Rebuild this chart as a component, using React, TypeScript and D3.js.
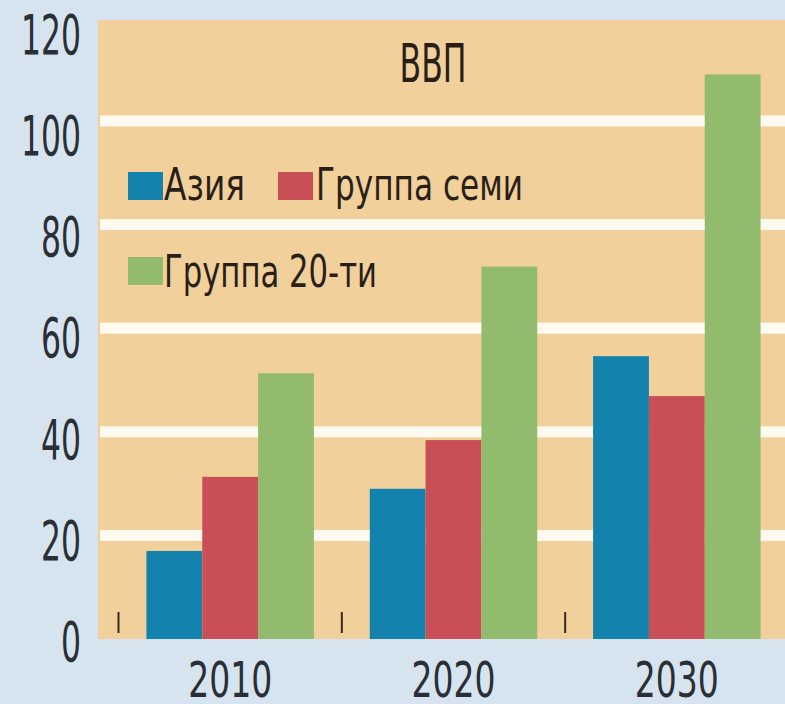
import React from "react";
import * as d3 from "d3";

const years = ["2010", "2020", "2030"];
const seriesNames = ["Азия", "Группа семи", "Группа 20-ти"];
const asia = [17, 29, 54.6];
const g7 = [31.3, 38.4, 46.9];
const g20 = [51.3, 71.9, 109];
const yTicks = [0, 20, 40, 60, 80, 100, 120];
const gridValues = [20, 40, 60, 80, 100];
const title = "ВВП";

const W = 785;
const H = 704;
const FONT = "'Liberation Sans Narrow', 'DejaVu Sans Condensed', 'Roboto', sans-serif";
const colors = ["#1383ad", "#c94f57", "#93bb6d"];

export default function App() {
  const plotLeft = 98;
  const plotTop = 20;
  const plotBottom = 639;

  const y = d3.scaleLinear().domain([0, 120]).range([plotBottom, 17.4]);
  const yLabel = d3.scaleLinear().domain([0, 120]).range([641, 33.5]);
  const x0 = d3.scaleBand<string>().domain(years).range([118.5, 788.5]).paddingInner(0.25).paddingOuter(0.125);
  const x1 = d3.scaleBand<string>().domain(seriesNames).range([0, x0.bandwidth()]).padding(0);
  const values = [asia, g7, g20];
  const step = x0.step();

  const legend = [
    { name: seriesNames[0], color: colors[0], x: 128, y: 172, tx: 164, base: 200, len: 81 },
    { name: seriesNames[1], color: colors[1], x: 278, y: 172, tx: 316, base: 200, len: 207 },
    { name: seriesNames[2], color: colors[2], x: 128, y: 257, tx: 164, base: 287, len: 213 },
  ];

  return (
    <svg width={W} height={H} style={{ position: "absolute", left: 0, top: 0 }} fontFamily={FONT}>
      <rect x={0} y={0} width={W} height={H} fill="#d6e4ef" />
      <rect x={plotLeft} y={plotTop} width={W - plotLeft} height={plotBottom - plotTop} fill="#f1d09b" />
      {gridValues.map((v) => (
        <rect key={v} x={plotLeft + 2} y={y(v) - 5.5} width={W - plotLeft} height={11} fill="#fffaf0" />
      ))}
      {years.map((yr, i) => (
        <g key={yr} transform={`translate(${x0(yr)},0)`}>
          {seriesNames.map((s, j) => (
            <rect
              key={s}
              x={x1(s)}
              y={y(values[j][i])}
              width={x1.bandwidth()}
              height={y(0) - y(values[j][i])}
              fill={colors[j]}
            />
          ))}
        </g>
      ))}
      {years.map((yr) => {
        const tx = (x0(yr) as number) - (step * 0.25) / 2;
        return <line key={"t" + yr} x1={tx} x2={tx} y1={612} y2={633} stroke="#3a2a1e" strokeWidth={2} />;
      })}
      {yTicks.map((v) => (
        <text
          key={"yl" + v}
          x={81}
          y={yLabel(v) + 20}
          textAnchor="end"
          fontSize={56}
          fill="#2a2e35"
          textLength={String(v).length * 20}
          lengthAdjust="spacingAndGlyphs"
        >
          {v}
        </text>
      ))}
      {years.map((yr) => (
        <text
          key={"xl" + yr}
          x={(x0(yr) as number) + x0.bandwidth() / 2}
          y={697}
          textAnchor="middle"
          fontSize={50}
          fill="#2a2e35"
          textLength={84}
          lengthAdjust="spacingAndGlyphs"
        >
          {yr}
        </text>
      ))}
      <text x={433} y={82} textAnchor="middle" fontSize={54} fill="#2a1f18" textLength={67} lengthAdjust="spacingAndGlyphs">
        {title}
      </text>
      {legend.map((l) => (
        <g key={l.name}>
          <rect x={l.x} y={l.y} width={35} height={28} fill={l.color} />
          <text x={l.tx} y={l.base} fontSize={44} fill="#2a1f18" textLength={l.len} lengthAdjust="spacingAndGlyphs">
            {l.name}
          </text>
        </g>
      ))}
    </svg>
  );
}
